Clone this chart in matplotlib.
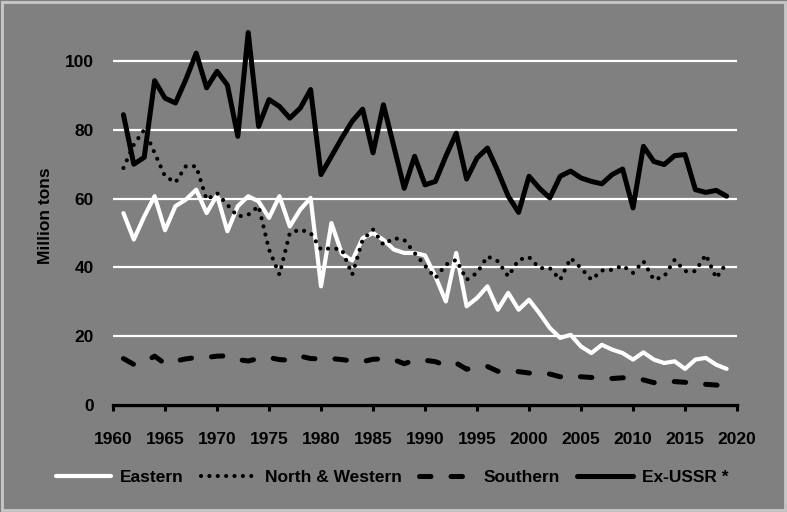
import matplotlib
matplotlib.use("Agg")
import matplotlib.pyplot as plt
from matplotlib.patches import Rectangle

plt.rcParams["font.family"] = ["Liberation Sans", "DejaVu Sans"]
plt.rcParams["font.weight"] = "bold"

# ----- data (million tons) -----
years = list(range(1961, 2020))

eastern = [55.8, 48.1, 54.8, 60.7, 50.8, 57.8, 59.7, 62.6, 55.8, 61.0,
           50.5, 57.8, 60.7, 59.2, 54.4, 60.7, 51.9, 56.8, 60.2, 34.5,
           52.9, 44.0, 42.0, 48.5, 50.0, 48.0, 45.2, 44.2, 44.2, 43.5,
           37.4, 30.1, 44.2, 28.7, 31.1, 34.5, 27.7, 32.6, 27.7, 30.6,
           26.7, 22.4, 19.5, 20.4, 17.0, 15.1, 17.5, 16.1, 15.1, 13.2,
           15.3, 13.2, 12.2, 12.7, 10.5, 13.2, 13.7, 11.7, 10.5]

north_western = [68.9, 75.7, 80.0, 73.3, 66.5, 64.7, 69.4, 69.4, 59.7, 61.6,
                 58.2, 54.8, 55.3, 57.8, 45.2, 37.9, 50.0, 51.0, 50.0, 45.2,
                 45.6, 45.2, 37.9, 48.0, 51.0, 46.6, 48.5, 48.0, 44.2, 40.5,
                 36.9, 40.8, 42.2, 36.4, 38.4, 43.2, 41.8, 37.4, 42.2, 43.0,
                 39.8, 39.8, 36.4, 42.7, 39.8, 36.4, 39.1, 39.3, 40.5, 38.4,
                 41.8, 36.4, 37.4, 42.2, 38.9, 38.9, 43.7, 36.9, 41.3]

southern = [13.5, 11.8, 12.5, 14.2, 12.0, 12.8, 13.4, 13.8, 13.8, 14.2,
            14.3, 13.2, 12.8, 13.5, 13.8, 13.2, 13.0, 14.2, 13.5, 13.4,
            13.5, 13.2, 12.8, 12.6, 13.3, 13.4, 13.2, 12.0, 13.0, 13.0,
            12.6, 11.5, 12.2, 10.4, 11.0, 11.2, 9.8, 10.0, 9.7, 9.3,
            9.3, 9.0, 8.2, 8.6, 8.2, 8.0, 7.8, 7.7, 7.9, 7.9,
            7.3, 6.5, 6.8, 6.8, 6.6, 6.3, 6.0, 5.8, 5.5]

ex_ussr = [84.4, 70.0, 72.0, 94.3, 89.2, 87.8, 94.6, 102.3, 92.2, 97.0,
           93.0, 78.1, 108.3, 81.0, 88.8, 86.8, 83.4, 86.3, 91.7, 67.0,
           72.3, 77.6, 82.5, 86.0, 73.3, 87.3, 75.2, 63.0, 72.3, 64.0,
           65.0, 72.3, 79.0, 65.7, 71.8, 74.7, 68.0, 60.7, 56.0, 66.5,
           63.0, 60.2, 66.5, 68.0, 66.0, 65.0, 64.3, 67.0, 68.6, 57.3,
           75.2, 70.8, 69.9, 72.5, 72.8, 62.6, 61.8, 62.4, 60.7]

series_labels = ["Eastern", "North & Western", "Southern", "Ex-USSR *"]
x_ticks = list(range(1960, 2021, 5))
y_ticks = [0, 20, 40, 60, 80, 100]

BG = "#808080"

fig = plt.figure(figsize=(7.87, 5.12), dpi=100, facecolor=BG)
fig.patches.append(Rectangle((0.002, 0.003), 0.996, 0.994, transform=fig.transFigure,
                             facecolor="none", edgecolor="#c8c8c8", linewidth=2.0))
ax = fig.add_axes([0.1436, 0.209, 0.7929, 0.739])
ax.set_facecolor(BG)

# series
ax.plot(years, eastern, color="white", lw=3.0, solid_joinstyle="round",
        solid_capstyle="round", label=series_labels[0], zorder=3)
ax.plot(years, north_western, color="black", lw=3.0, linestyle=(0, (0.01, 2.0)),
        dash_capstyle="round", label=series_labels[1], zorder=4)
ax.plot(years, southern, color="black", lw=3.6, linestyle=(0, (2.3, 4.0)),
        dash_capstyle="round", label=series_labels[2], zorder=4)
ax.plot(years, ex_ussr, color="black", lw=3.6, solid_joinstyle="round",
        solid_capstyle="round", label=series_labels[3], zorder=5)

# axes
ax.set_xlim(1960, 2020)
ax.set_ylim(0, 110)
ax.set_xticks(x_ticks)
ax.set_yticks(y_ticks)
ax.grid(axis="y", color="white", linewidth=1.6, zorder=1)
ax.set_axisbelow(True)
for s in ("top", "right", "left"):
    ax.spines[s].set_visible(False)
ax.spines["bottom"].set_linewidth(2.4)
ax.spines["bottom"].set_zorder(6)
ax.tick_params(axis="x", direction="out", length=4.5, width=2.2, pad=15,
               labelsize=12.5, colors="black")
ax.tick_params(axis="y", length=0, pad=14, labelsize=12.5)
for lab in ax.get_xticklabels() + ax.get_yticklabels():
    lab.set_fontweight("bold")
ax.set_ylabel("Million tons", fontsize=12.5, fontweight="bold", labelpad=8)

leg = fig.legend(loc="center", bbox_to_anchor=(0.498, 0.068), ncol=4, frameon=False,
                 fontsize=12.5, handlelength=3.2, handletextpad=0.5, columnspacing=1.0)
for t in leg.get_texts():
    t.set_fontweight("bold")

fig.savefig("out.png", dpi=100, facecolor=BG)
